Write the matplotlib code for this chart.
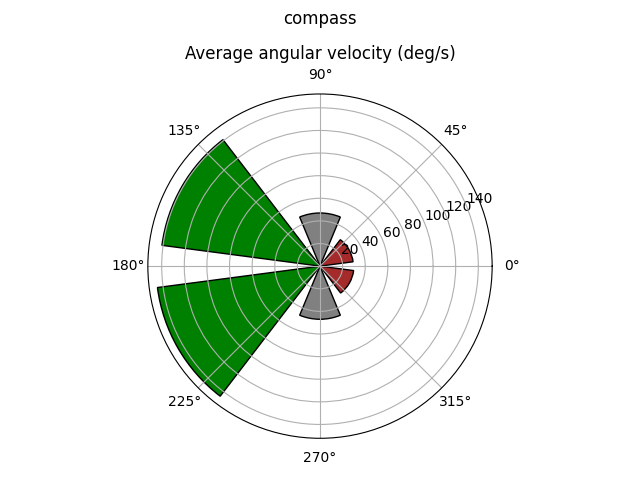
import numpy as np
import matplotlib
matplotlib.use("Agg")
import matplotlib.pyplot as plt

directions_deg = [30, 90, 150, 210, 270, 330]
velocities = [29.5, 47, 141, 145, 47, 30]
colors = ["brown", "gray", "green", "green", "gray", "brown"]

fig = plt.figure(figsize=(6.4, 4.8), dpi=100)
ax = fig.add_subplot(111, projection="polar")
theta = np.deg2rad(directions_deg)
ax.bar(theta, velocities, width=np.pi / 4, color=colors, edgecolor="black")
ax.set_rticks([20, 40, 60, 80, 100, 120, 140])
ax.set_title("Average angular velocity (deg/s)")
fig.suptitle("compass")
ax.set_position([0.1, 0.0869, 0.8, 0.7173])
fig.savefig("out.png")
